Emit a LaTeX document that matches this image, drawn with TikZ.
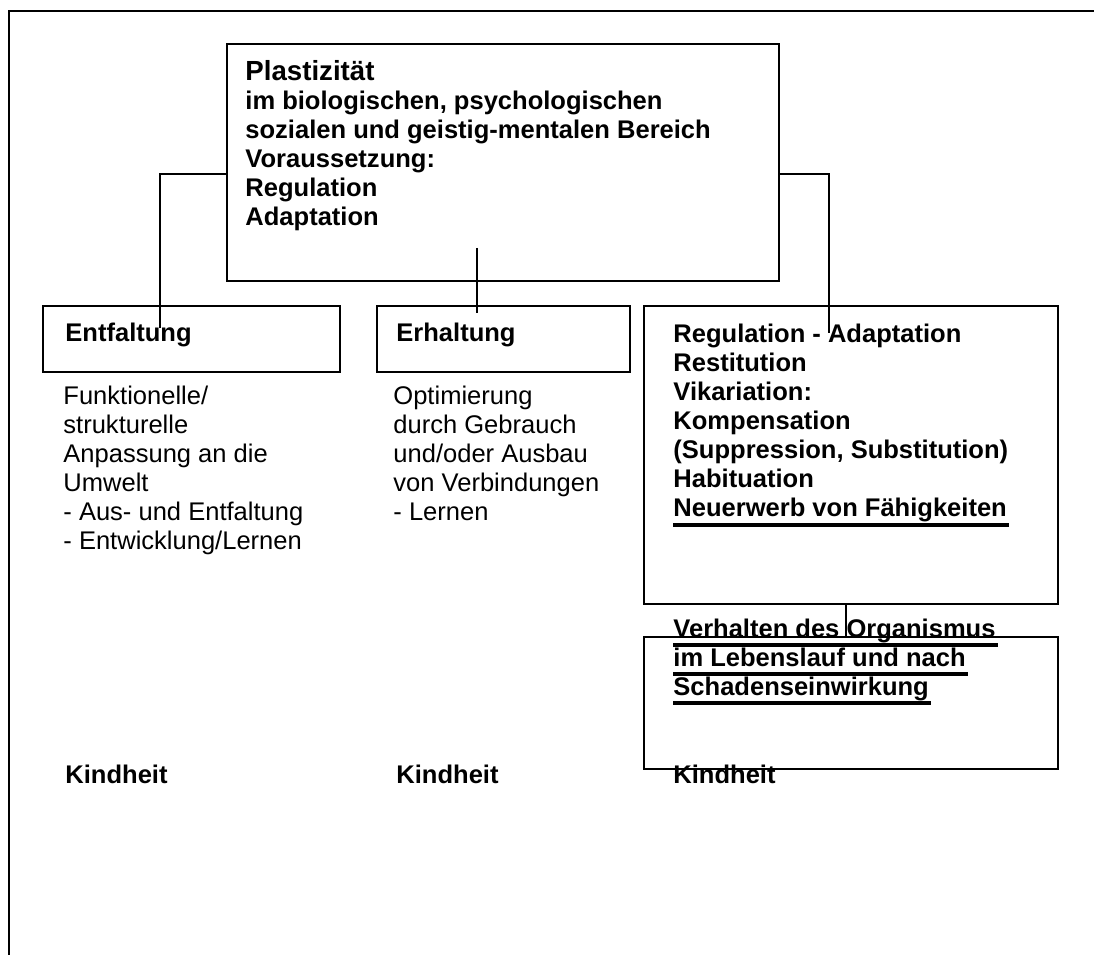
\documentclass[tikz,border=0pt]{standalone}
\usepackage{fontspec}
\setmainfont{Liberation Sans}
\usetikzlibrary{fit, positioning}

\newcommand{\thickul}[1]{\setbox0=\hbox{#1}\rlap{\rule[-4.8pt]{\dimexpr\wd0+1pt\relax}{1.9pt}}\box0}

\tikzset{
  box/.style={draw, line width=0.9pt, inner sep=0pt},
  conn/.style={line width=0.5pt},
  txt/.style={anchor=base west, align=left, inner sep=0pt, font=\fontsize{12}{13.63}\selectfont},
  btxt/.style={txt, font=\fontsize{12}{13.63}\selectfont\bfseries}
}

\begin{document}
\begin{tikzpicture}[x=0.47pt, y=-0.47pt]
    \useasboundingbox (0,0) rectangle (1094,955);

    % Rahmen
    \draw[line width=0.9pt] (9,955) -- (9,11) -- (1094,11);

    % Kaesten
    \node[box, fit={(227,44) (779,281)}] (plast) {};
    \node[box, fit={(43,306) (340,372)}] (entf) {};
    \node[box, fit={(377,306) (630,372)}] (erh) {};
    \node[box, fit={(644,306) (1058,604)}] (regad) {};
    \node[box, fit={(644,637) (1058,769)}] (verh) {};

    % Texte (Anker: Grundlinie der letzten Zeile)
    \node[btxt] (plasttxt) at (245,226) {{\fontsize{13}{13.63}\selectfont Plastizität}\\
        im biologischen, psychologischen\\
        sozialen und geistig-mentalen Bereich\\
        Voraussetzung:\\
        Regulation\\
        Adaptation};
    \node[btxt] (entftxt) at (65,342) {Entfaltung};
    \node[btxt] (erhtxt) at (396,342) {Erhaltung};
    \node[btxt] (regadtxt) at (673,517) {Regulation - Adaptation\\
        Restitution\\
        Vikariation:\\
        Kompensation\\
        (Suppression, Substitution)\\
        Habituation\\
        \thickul{Neuerwerb von Fähigkeiten}};
    \node[txt] (entfinfo) at (63,550) {Funktionelle/\\
        strukturelle\\
        Anpassung an die\\
        Umwelt\\
        - Aus- und Entfaltung\\
        - Entwicklung/Lernen};
    \node[txt] (erhinfo) at (393,521) {Optimierung\\
        durch Gebrauch\\
        und/oder Ausbau\\
        von Verbindungen\\
        - Lernen};
    \node[btxt] (verhtxt) at (673,695) {\thickul{Verhalten des Organismus}\\
        \thickul{im Lebenslauf und nach}\\
        \thickul{Schadenseinwirkung}};
    \node[btxt] (kind1) at (65,783) {Kindheit};
    \node[btxt] (kind2) at (396,783) {Kindheit};
    \node[btxt] (kind3) at (673,783) {Kindheit};

    % Verbindungen
    \coordinate (lknee) at (160,174);
    \coordinate (lend) at (160,328);
    \coordinate (rknee) at (829,174);
    \coordinate (rend) at (829,333);
    \coordinate (mtop) at (477,248);
    \coordinate (mend) at (477,313);
    \coordinate (vx) at (846,0);
    \draw[conn] (plast.west |- lknee) -| (lend);
    \draw[conn] (plast.east |- rknee) -| (rend);
    \draw[conn] (mtop) -- (mend);
    \draw[conn] (regad.south -| vx) -- (verh.north -| vx);
\end{tikzpicture}
\end{document}
